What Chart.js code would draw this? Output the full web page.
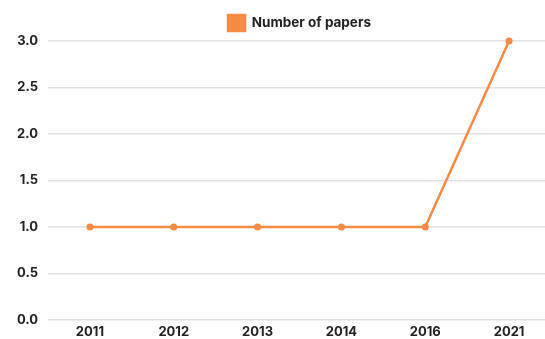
<!DOCTYPE html>
<html><head><meta charset="utf-8">
<script src="https://cdn.jsdelivr.net/npm/chart.js@4/dist/chart.umd.min.js"></script>
<style>html,body{margin:0;padding:0;background:#fff;overflow:hidden}#w{width:555px;height:339px}</style>
</head><body><div id="w"><canvas id="c"></canvas></div>
<script>
const categories = ["2011","2012","2013","2014","2016","2021"];
const papers = [1,1,1,1,1,3];
const seriesLabel = "Number of papers";
const orange = "#f68b45";
new Chart(document.getElementById('c'), {
  type: 'line',
  data: { labels: categories, datasets: [{
    label: seriesLabel, data: papers, borderColor: orange, backgroundColor: orange, clip: false,
    borderWidth: 2.5, pointRadius: 3.5, pointBackgroundColor: orange, pointBorderWidth: 0, tension: 0
  }]},
  options: {
    responsive: true, maintainAspectRatio: false, animation: false,
    layout: { padding: { left: 8, right: 0, top: 6, bottom: 0 } },
    plugins: {
      legend: { fullSize: false, labels: { boxWidth: 17, boxHeight: 16, color: '#222', padding: 9,
        font: { family: 'Inter', weight: 'bold', size: 13.5 } } },
      tooltip: { enabled: false }
    },
    scales: {
      x: { offset: true, grid: { display: false, drawTicks: false }, border: { display: false },
        afterFit: s => { s.height = 19; },
        ticks: { color: '#222', padding: 4, font: { family: 'Inter', weight: 'bold', size: 13 } } },
      y: { min: 0, max: 3, ticks: { stepSize: 0.5, color: '#222', padding: 10,
          callback: v => v.toFixed(1), font: { family: 'Inter', weight: 'bold', size: 13 } },
        afterFit: s => { s.width = 40; },
        grid: { color: '#e2e2e2', lineWidth: 1.5, drawTicks: false }, border: { display: false } }
    }
  }
});
</script></body></html>
